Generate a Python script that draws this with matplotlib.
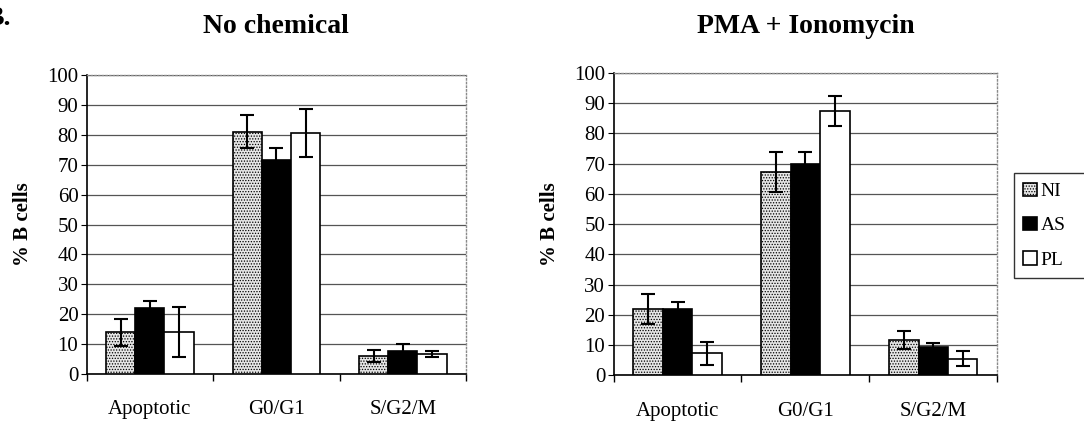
import numpy as np
import matplotlib
matplotlib.use('Agg')
from matplotlib import pyplot as plt
from matplotlib.patches import Patch

plt.rcParams['font.family'] = ['Liberation Serif', 'DejaVu Serif']
plt.rcParams['hatch.linewidth'] = 0.6
plt.rcParams['hatch.color'] = '#808080'

categories = ['Apoptotic', 'G0/G1', 'S/G2/M']
series = ['NI', 'AS', 'PL']

# No chemical
nochem_vals = {'NI': [14, 81, 6], 'AS': [22, 71.5, 7.8], 'PL': [14, 80.5, 6.5]}
nochem_err = {'NI': [4.5, 5.5, 2], 'AS': [2.5, 4, 2.2], 'PL': [8.5, 8, 1]}

# PMA + Ionomycin
pma_vals = {'NI': [22, 67.2, 11.6], 'AS': [21.8, 70, 9.2], 'PL': [7.2, 87.5, 5.5]}
pma_err = {'NI': [5, 6.7, 3], 'AS': [2.5, 3.8, 1.3], 'PL': [3.8, 5, 2.6]}

styles = {
    'NI': dict(facecolor='#e6e6e6', hatch='......'),
    'AS': dict(facecolor='black', hatch=None),
    'PL': dict(facecolor='white', hatch=None),
}

fig = plt.figure(figsize=(10.84, 4.22), dpi=100)
ax1 = fig.add_axes([0.080, 0.114, 0.350, 0.708])
ax2 = fig.add_axes([0.566, 0.111, 0.354, 0.716])


def draw_panel(ax, vals, errs, title, pad):
    x = np.arange(len(categories))
    w = 0.23
    for i, s in enumerate(series):
        ax.bar(x + (i - 1) * w, vals[s], w, edgecolor='black', linewidth=1.2,
               zorder=3, **styles[s])
        ax.errorbar(x + (i - 1) * w, vals[s], yerr=errs[s], fmt='none',
                    ecolor='black', elinewidth=1.5, capsize=5, capthick=1.5, zorder=4)
    ax.set_xlim(-0.5, 2.5)
    ax.set_ylim(0, 100)
    ax.set_yticks(range(0, 101, 10))
    ax.yaxis.grid(True, color='#555555', linewidth=0.9, zorder=0)
    ax.set_axisbelow(True)
    ax.set_xticks(x)
    ax.set_xticklabels(categories, fontsize=15)
    ax.set_xticks([-0.5, 0.5, 1.5, 2.5], minor=True)
    ax.tick_params(axis='x', which='major', length=0, pad=19)
    ax.tick_params(axis='x', which='minor', length=5, width=1, direction='out')
    ax.tick_params(axis='y', labelsize=15, length=4, direction='out', pad=2)
    for side in ['top', 'right']:
        ax.spines[side].set_color('#8a8a8a')
        ax.spines[side].set_linestyle(':')
        ax.spines[side].set_linewidth(1)
    ax.spines['left'].set_linewidth(1.2)
    ax.spines['bottom'].set_linewidth(1.2)
    ax.set_ylabel('% B cells', fontsize=15, fontweight='bold', labelpad=10)
    ax.set_title(title, fontsize=20, fontweight='bold', pad=pad)


draw_panel(ax1, nochem_vals, nochem_err, 'No chemical', 30)
draw_panel(ax2, pma_vals, pma_err, 'PMA + Ionomycin', 28.5)

# panel letter, partly cut by the left edge as in the scan
fig.text(-0.0135, 0.955, 'B.', fontsize=20, fontweight='bold', va='center')

handles = [Patch(edgecolor='black', linewidth=1.2, **styles[s]) for s in series]
leg = fig.legend(handles, series, loc='upper left', bbox_to_anchor=(0.935, 0.59, 0.1, 0.0),
                 mode='expand', borderaxespad=0, fontsize=14, handlelength=0.7,
                 handleheight=0.7, handletextpad=0.2, labelspacing=0.85, borderpad=0.5,
                 frameon=True, fancybox=False)
leg.get_frame().set_edgecolor('black')
leg.get_frame().set_linewidth(1)

plt.savefig('out.png', dpi=100)
